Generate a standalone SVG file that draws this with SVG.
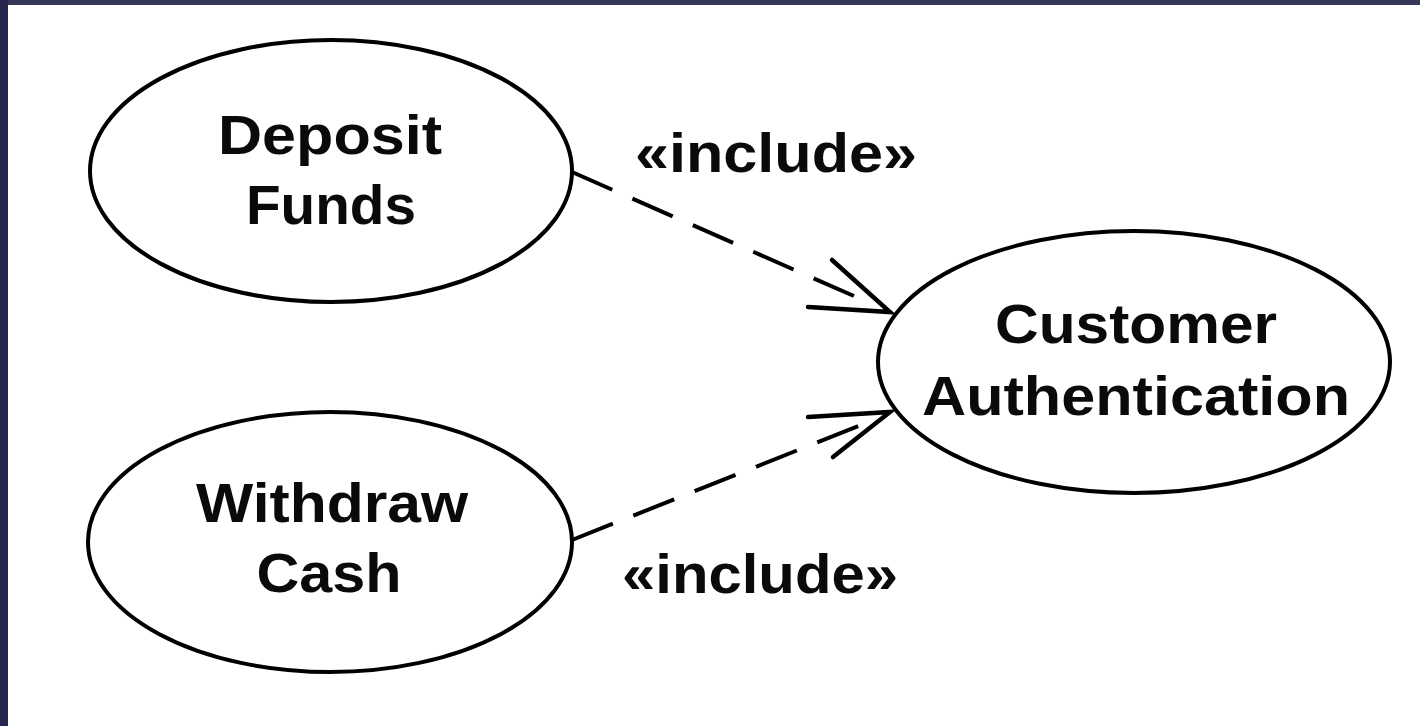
<svg xmlns="http://www.w3.org/2000/svg" width="1420" height="726" viewBox="0 0 1420 726">
  <style>
    .uc { fill: #ffffff; stroke: #000000; stroke-width: 4; }
    .lbl { font-family: "Liberation Sans", Arial, sans-serif; font-weight: bold; font-size: 56px; fill: #0a0a0a; text-anchor: middle; }
    .dep { fill: none; stroke: #000000; stroke-width: 4; stroke-dasharray: 44 22; }
    .head { fill: none; stroke: #000000; stroke-width: 4.5; stroke-linecap: round; stroke-linejoin: miter; }
  </style>

  <!-- frame -->
  <rect x="0" y="0" width="1420" height="726" fill="#ffffff"/>
  <rect x="0" y="0" width="1420" height="5" fill="#373759"/>
  <rect x="0" y="0" width="8" height="726" fill="#262650"/>

  <!-- include dependencies -->
  <g id="connectors">
    <path class="dep" d="M572,172 L872,304"/>
    <path class="head" d="M808,307 L890,312 L832,260"/>
    <text class="lbl" x="776" y="172" textLength="282" lengthAdjust="spacingAndGlyphs">«include»</text>

    <path class="dep" d="M572,540 L871,421"/>
    <path class="head" d="M808,417 L890,412 L833,457"/>
    <text class="lbl" x="760" y="593" textLength="276" lengthAdjust="spacingAndGlyphs">«include»</text>
  </g>

  <!-- use cases -->
  <g id="deposit-funds">
    <ellipse class="uc" cx="331" cy="171" rx="241" ry="131"/>
    <text class="lbl" x="330" y="154" textLength="224" lengthAdjust="spacingAndGlyphs">Deposit</text>
    <text class="lbl" x="331" y="224" textLength="170" lengthAdjust="spacingAndGlyphs">Funds</text>
  </g>

  <g id="withdraw-cash">
    <ellipse class="uc" cx="330" cy="542" rx="242" ry="130"/>
    <text class="lbl" x="332" y="522" textLength="272" lengthAdjust="spacingAndGlyphs">Withdraw</text>
    <text class="lbl" x="329" y="592" textLength="145" lengthAdjust="spacingAndGlyphs">Cash</text>
  </g>

  <g id="customer-authentication">
    <ellipse class="uc" cx="1134" cy="362" rx="256" ry="131"/>
    <text class="lbl" x="1136" y="343" textLength="282" lengthAdjust="spacingAndGlyphs">Customer</text>
    <text class="lbl" x="1136" y="415" textLength="428" lengthAdjust="spacingAndGlyphs">Authentication</text>
  </g>
</svg>
